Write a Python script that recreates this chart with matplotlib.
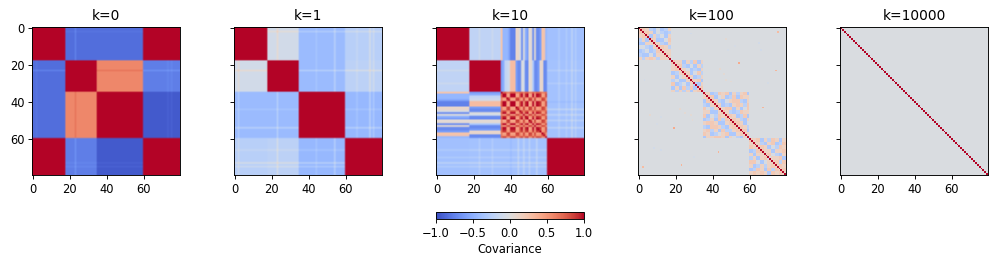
import numpy as np
import matplotlib
matplotlib.use("Agg")
import matplotlib.pyplot as plt

W, H = 996, 264
N = 80
titles = ["k=0", "k=1", "k=10", "k=100", "k=10000"]
block_edges = [0, 18, 35, 60, 80]
tick_values = [0, 20, 40, 60]
cbar_ticks = [-1.0, -0.5, 0.0, 0.5, 1.0]
cbar_label = "Covariance"

k0_blocks = [[1.00, -0.84, -0.84, 1.00],
             [-0.84, 1.00, 0.58, -0.76],
             [-0.84, 0.58, 1.00, -0.93],
             [1.00, -0.76, -0.93, 1.00]]
k1_blocks = [[1.00, -0.08, -0.42, -0.25],
             [-0.08, 1.00, -0.42, -0.22],
             [-0.42, -0.42, 1.00, -0.44],
             [-0.25, -0.22, -0.44, 1.00]]
k10_blocks = [[1.00, -0.20, -0.40, -0.38],
              [-0.20, 1.00, -0.40, -0.36],
              [-0.40, -0.40, 1.00, -0.36],
              [-0.38, -0.36, -0.36, 1.00]]

# faint cross-block lines: index, change
k0_lines = [(23, 0.07), (73, 0.03), (75, 0.03), (2, 0.02)]
k1_lines = [(23, 0.12), (54, 0.14), (73, 0.16), (2, 0.10), (75, 0.10), (66, 0.07), (44, 0.06)]
k10_lines = [(73, 0.14), (23, 0.07), (75, 0.08), (66, 0.08), (44, 0.12), (30, 0.06),
             (70, 0.06), (47, 0.12), (50, 0.10), (54, 0.12), (40, -0.06)]

# k=10: covariance of indices 35..59 with block 0 and with block 1
k10_stripe_a = [0.25, -0.45, -0.45, -0.45, -0.55, -0.75, -0.75, -0.75, 0.10, 0.10, -0.05, -0.70,
                0.00, -0.50, -0.60, 0.05, 0.05, -0.70, 0.05, -0.70, -0.70, -0.60, 0.25, 0.25, -0.45]
k10_stripe_b = [-0.60, -0.50, -0.20, -0.15, -0.10, 0.30, 0.30, 0.30, -0.60, -0.70, -0.70, 0.00,
                -0.10, -0.70, -0.70, 0.05, 0.05, -0.30, -0.70, -0.70, -0.60, 0.10, 0.10, -0.70, -0.70]
# k=10: within-block pattern of indices 35..59
k10_inner = [0.3, 1.0, 1.0, -0.6, -0.9, 1.0, 1.0, 1.0, -0.7, -0.8, 0.4, 1.0,
             -0.7, 0.8, 1.0, -0.8, -0.7, 1.0, -0.7, 1.0, 0.9, 0.6, -0.7, -0.6, 0.5]

# k=100: patches of two cells per character, levels in k100_levels
k100_levels = [-0.42, -0.32, -0.22, -0.04, 0.13, 0.21, 0.30]
k100_block0 = ["554213124",
               "545413212",
               "455142314",
               "412541135",
               "231454214",
               "313145542",
               "121215444",
               "213314454",
               "424542444"]
k100_block1 = ["544142514",
               "455213142",
               "545431214",
               "123541352",
               "412454124",
               "131345451",
               "524145214",
               "143512445",
               "424124544"]
k100_block2 = ["5412545142451",
               "4551341251544",
               "1554213455214",
               "2345412145425",
               "5142545514135",
               "4131454212544",
               "5451345541251",
               "1225415454214",
               "2144512455413",
               "5152154414542",
               "1451214154551",
               "4254521455244",
               "5445113241454"]
k100_block3 = ["5451425414",
               "4542145125",
               "5245413254",
               "1425441445",
               "4115453214",
               "2414534451",
               "5154134525",
               "4122445454",
               "1425154545",
               "4554142454"]
# k=100: isolated cross-block points: row, column, value
k100_points = [(19, 54, 0.40), (23, 74, 0.34), (43, 67, 0.34), (2, 75, 0.30), (6, 47, 0.06),
               (25, 46, 0.05), (29, 50, 0.05), (44, 22, 0.06), (47, 28, 0.05), (12, 66, -0.08),
               (3, 28, -0.08), (10, 52, -0.06), (65, 8, -0.08), (70, 30, -0.07), (48, 12, -0.07)]
k100_background = -0.03
k100_diagonal = 1.0
k10000_background = -0.03
k10000_diagonal = 1.0


def from_blocks(values, lines):
    m = np.zeros((N, N))
    e = block_edges
    for i in range(4):
        for j in range(4):
            m[e[i]:e[i + 1], e[j]:e[j + 1]] = values[i][j]
    for idx, change in lines:
        own = np.searchsorted(e, idx, side="right") - 1
        mask = np.ones(N, bool)
        mask[e[own]:e[own + 1]] = False
        mask &= m[idx] < 0.95
        m[idx, mask] += change
        m[mask, idx] += change
    return m


def build_k10():
    m = from_blocks(k10_blocks, k10_lines)
    a, b, p = map(np.array, (k10_stripe_a, k10_stripe_b, k10_inner))
    m[0:18, 35:60] = a
    m[35:60, 0:18] = a[:, None]
    m[18:35, 35:60] = b
    m[35:60, 18:35] = b[:, None]
    inner = 0.68 + 0.32 * np.outer(p, p)
    np.fill_diagonal(inner, 1.0)
    m[35:60, 35:60] = inner
    return m


def build_k100():
    m = np.full((N, N), k100_background)
    levels_map = np.array(k100_levels)
    blocks = (k100_block0, k100_block1, k100_block2, k100_block3)
    for b, rows in enumerate(blocks):
        start, stop = block_edges[b], block_edges[b + 1]
        n = stop - start
        levels = levels_map[np.array([[int(c) for c in r] for r in rows])]
        cells = np.repeat(np.repeat(levels, 2, axis=0), 2, axis=1)[:n, :n]
        upper = np.triu(cells, 1)
        m[start:stop, start:stop] = upper + upper.T
    for r, c, v in k100_points:
        m[r, c] = m[c, r] = v
    np.fill_diagonal(m, k100_diagonal)
    return m


def build_k10000():
    m = np.full((N, N), k10000_background)
    np.fill_diagonal(m, k10000_diagonal)
    return m


matrices = [from_blocks(k0_blocks, k0_lines), from_blocks(k1_blocks, k1_lines),
            build_k10(), build_k100(), build_k10000()]

axes_left_px = [32, 234, 436, 638, 840]
axes_size_px = 148
axes_top_px = 27
font_scale = 1.15
panel_interpolation = ["bilinear", "bilinear", "bilinear", "nearest", "nearest"]

plt.rcParams.update({
    "font.size": 10 * font_scale,
    "axes.titlesize": 12 * font_scale,
    "axes.linewidth": 0.8 * font_scale,
    "xtick.major.size": 3.5 * font_scale,
    "ytick.major.size": 3.5 * font_scale,
    "xtick.major.width": 0.8 * font_scale,
    "ytick.major.width": 0.8 * font_scale,
})

fig = plt.figure(figsize=(W / 72, H / 72), dpi=72)
im = None
for i, (m, title, left) in enumerate(zip(matrices, titles, axes_left_px)):
    ax = fig.add_axes([left / W, 1 - (axes_top_px + axes_size_px) / H, axes_size_px / W, axes_size_px / H])
    im = ax.imshow(m, cmap="coolwarm", vmin=-1, vmax=1, interpolation=panel_interpolation[i],
                   interpolation_stage="rgba")
    ax.set_title(title, pad=6.5)
    ax.set_xticks(tick_values)
    ax.set_yticks(tick_values)
    if i > 0:
        ax.set_yticklabels([])

cax = fig.add_axes([435.5 / W, 1 - 219 / H, 148.5 / W, 7 / H])
cb = fig.colorbar(im, cax=cax, orientation="horizontal", ticks=cbar_ticks)
cb.set_label(cbar_label, labelpad=3)
fig.savefig("out.png", dpi=72)
